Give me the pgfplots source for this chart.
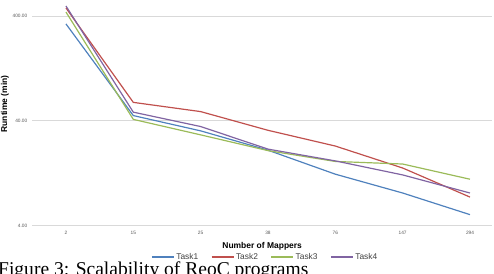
\documentclass[border=0pt]{standalone}
\usepackage{fontspec}
\setmainfont{Liberation Serif}
\newfontfamily\arial{Liberation Sans}
\usepackage{pgfplots}
\pgfplotsset{compat=1.18}

\definecolor{taskA}{HTML}{4F81BD}
\definecolor{taskB}{HTML}{C0504D}
\definecolor{taskC}{HTML}{9BBB59}
\definecolor{taskD}{HTML}{8064A2}
\definecolor{gridgray}{HTML}{D9D9D9}
\definecolor{ticktext}{HTML}{595959}
\definecolor{legtext}{HTML}{404040}

\begin{document}
\begin{tikzpicture}
\useasboundingbox (0,0) rectangle (494bp,274bp);
\clip (0,0) rectangle (494bp,274bp);
\begin{axis}[
  at={(32.3bp,48.3bp)}, anchor=south west,
  scale only axis, width=459.7bp, height=222.7bp,
  ymode=log, log basis y=10,
  xmin=-0.5, xmax=6.327, ymin=4, ymax=532,
  axis line style={draw=none},
  tick style={draw=none},
  xtick={0,...,6}, xticklabels={2,15,25,38,76,147,294},
  ytick={4,40,400}, yticklabels={4.00,40.00,400.00},
  xtick pos=bottom, ytick pos=left,
  major tick length=0pt,
  ymajorgrids, grid style={gridgray, line width=0.8pt},
  /pgf/number format/assume math mode=true,
  ticklabel style={font=\arial\fontsize{4.8}{6}\selectfont, text=ticktext, inner sep=0pt},
  yticklabel style={anchor=east, xshift=-4.8bp},
  xticklabel style={anchor=center, yshift=-7bp},
  xlabel={Number of Mappers},
  xlabel style={at={(axis description cs:0.5,-0.091)}, anchor=center,
    font=\arial\bfseries\fontsize{8.5}{10}\selectfont, inner sep=0pt},
  ylabel={Runtime (min)},
  ylabel style={at={(axis description cs:-0.0594,0.5465)}, anchor=center,
    font=\arial\bfseries\fontsize{8.5}{10}\selectfont, inner sep=0pt},
  legend columns=4,
  legend style={at={(axis description cs:0.506,-0.1405)}, anchor=center,
    draw=none, fill=none, inner sep=0pt,
    font=\arial\fontsize{8.4}{10}\selectfont, text=legtext,
    /tikz/every even column/.append style={column sep=11bp},
    nodes={inner sep=1.5bp}},
  legend image code/.code={\draw[#1, line width=1.8pt] (0bp,0bp) -- (22bp,0bp);},
  every axis plot/.append style={line width=1.2pt, mark=none},
  clip=false,
]
\addplot[taskA] coordinates {(0,336) (1,44.9) (2,32.1) (3,21.0) (4,12.4) (5,8.2) (6,5.1)};
\addlegendentry{Task1}
\addplot[taskB] coordinates {(0,477) (1,60.0) (2,49.0) (3,32.5) (4,23.0) (5,14.2) (6,7.5)};
\addlegendentry{Task2}
\addplot[taskC] coordinates {(0,436) (1,41.3) (2,29.4) (3,20.8) (4,16.4) (5,15.5) (6,11.1)};
\addlegendentry{Task3}
\addplot[taskD] coordinates {(0,498) (1,48.4) (2,35.3) (3,21.5) (4,16.6) (5,12.2) (6,8.2)};
\addlegendentry{Task4}
\end{axis}
\node[anchor=base west, inner sep=0pt, font=\fontsize{19.6}{22}\selectfont]
  at (-2bp,-1bp) {Figure 3: Scalability of ReoC programs};
\end{tikzpicture}
\end{document}
